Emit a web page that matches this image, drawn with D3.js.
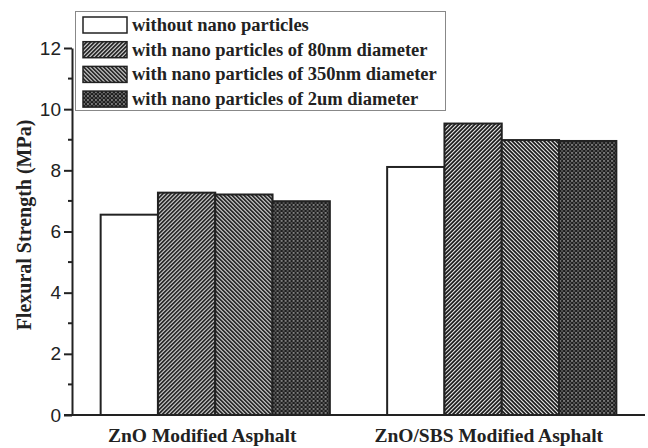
<!DOCTYPE html>
<html>
<head>
<meta charset="utf-8">
<script src="https://cdn.jsdelivr.net/npm/d3@7"></script>
<style>
  body { margin: 0; background: #fff; }
  svg { display: block; }
</style>
</head>
<body>
<div class="chart"></div>
<script>
var categories = ["ZnO Modified Asphalt", "ZnO/SBS Modified Asphalt"];
var seriesNames = ["without nano particles", "with nano particles of 80nm diameter",
                   "with nano particles of 350nm diameter", "with nano particles of 2um diameter"];
var seriesFills = ["#fff", "url(#hatchFwd)", "url(#hatchBack)", "url(#dots)"];
var valuesNone = [6.55, 8.11];
var values80 = [7.27, 9.53];
var values350 = [7.21, 8.99];
var values2um = [6.99, 8.96];
var yTicks = [0, 2, 4, 6, 8, 10, 12];

var seriesValues = [valuesNone, values80, values350, values2um];

var width = 648, height = 448;
var margin = {top: 48, right: 3, bottom: 33, left: 72};

var svg = d3.select(".chart").append("svg")
    .attr("width", width)
    .attr("height", height);

// patterns
var defs = svg.append("defs");
var p1 = defs.append("pattern").attr("id", "hatchFwd")
    .attr("patternUnits", "userSpaceOnUse").attr("width", 4).attr("height", 4);
p1.append("rect").attr("width", 4).attr("height", 4).attr("fill", "#fff");
p1.append("path").attr("d", "M-1,1 l2,-2 M0,4 l4,-4 M3,5 l2,-2")
    .attr("stroke", "#111").attr("stroke-width", 1.8);

var p2 = defs.append("pattern").attr("id", "hatchBack")
    .attr("patternUnits", "userSpaceOnUse").attr("width", 4).attr("height", 4);
p2.append("rect").attr("width", 4).attr("height", 4).attr("fill", "#fff");
p2.append("path").attr("d", "M-1,3 l2,2 M0,0 l4,4 M3,-1 l2,2")
    .attr("stroke", "#111").attr("stroke-width", 1.8);

var p3 = defs.append("pattern").attr("id", "dots")
    .attr("patternUnits", "userSpaceOnUse").attr("width", 4).attr("height", 4);
p3.append("rect").attr("width", 4).attr("height", 4).attr("fill", "#1e1e1e");
p3.append("rect").attr("x", 0.3).attr("y", 0.3).attr("width", 1.3).attr("height", 1.3).attr("fill", "#eee");
p3.append("rect").attr("x", 2.3).attr("y", 2.3).attr("width", 1.3).attr("height", 1.3).attr("fill", "#999");

var x0 = d3.scaleBand()
    .domain(categories)
    .range([margin.left, width - margin.right])
    .paddingInner(0.2)
    .paddingOuter(0.1);

var x1 = d3.scaleBand()
    .domain(d3.range(seriesNames.length))
    .range([0, x0.bandwidth()]);

var y = d3.scaleLinear()
    .domain([0, 12])
    .range([height - margin.bottom, margin.top]);

// bars
var groups = svg.append("g").selectAll("g")
    .data(categories)
    .enter().append("g")
    .attr("transform", function(d) { return "translate(" + x0(d) + ",0)"; });

groups.selectAll("rect")
    .data(function(d, i) { return seriesValues.map(function(s, k) { return {k: k, v: s[i]}; }); })
    .enter().append("rect")
    .attr("x", function(d) { return x1(d.k); })
    .attr("y", function(d) { return y(d.v); })
    .attr("width", x1.bandwidth())
    .attr("height", function(d) { return y(0) - y(d.v); })
    .attr("fill", function(d) { return seriesFills[d.k]; })
    .attr("stroke", "#222")
    .attr("stroke-width", 2);

// y axis
var yAxis = svg.append("g")
    .attr("transform", "translate(" + margin.left + ",0)")
    .call(d3.axisLeft(y).tickValues(yTicks).tickSize(8).tickPadding(3).tickSizeOuter(0));
yAxis.select(".domain").attr("stroke", "#222").attr("stroke-width", 2);
yAxis.selectAll(".tick line").attr("stroke", "#222").attr("stroke-width", 2);
yAxis.selectAll("text")
    .attr("font-family", "Liberation Sans, Arial, sans-serif")
    .attr("font-size", 19).attr("fill", "#222");

// minor ticks
svg.append("g").selectAll("line")
    .data(d3.range(1, 12, 2))
    .enter().append("line")
    .attr("x1", margin.left - 4).attr("x2", margin.left)
    .attr("y1", function(d) { return y(d); }).attr("y2", function(d) { return y(d); })
    .attr("stroke", "#222").attr("stroke-width", 2);

// x axis
var xAxis = svg.append("g")
    .attr("transform", "translate(0," + y(0) + ")")
    .call(d3.axisBottom(x0).tickSize(0).tickPadding(13));
xAxis.select(".domain").attr("stroke", "#222").attr("stroke-width", 2)
    .attr("d", "M" + (margin.left - 8) + ",0H" + (width - margin.right));
xAxis.selectAll("text")
    .attr("dx", -13)
    .attr("font-family", "Liberation Serif, Times New Roman, serif")
    .attr("font-weight", "bold")
    .attr("font-size", 19.5).attr("fill", "#222");

// y label
svg.append("text")
    .attr("transform", "translate(31," + 225 + ") rotate(-90)")
    .attr("text-anchor", "middle")
    .attr("font-family", "Liberation Serif, Times New Roman, serif")
    .attr("font-weight", "bold")
    .attr("font-size", 20)
    .attr("fill", "#222")
    .text("Flexural Strength (MPa)");

// legend
var legend = svg.append("g");
legend.append("rect")
    .attr("x", 75.5).attr("y", 11.5)
    .attr("width", 370).attr("height", 99)
    .attr("fill", "#fff").attr("stroke", "#888").attr("stroke-width", 1);

var items = legend.selectAll("g.item")
    .data(seriesNames)
    .enter().append("g")
    .attr("class", "item")
    .attr("transform", function(d, i) { return "translate(83," + (17 + i * 24.7) + ")"; });

items.append("rect")
    .attr("width", 44).attr("height", 16)
    .attr("fill", function(d, i) { return seriesFills[i]; })
    .attr("stroke", "#222").attr("stroke-width", 1.5);

items.append("text")
    .attr("x", 49).attr("y", 14)
    .attr("font-family", "Liberation Serif, Times New Roman, serif")
    .attr("font-weight", "bold")
    .attr("font-size", 18.5)
    .attr("fill", "#222")
    .text(function(d) { return d; });
</script>
</body>
</html>
